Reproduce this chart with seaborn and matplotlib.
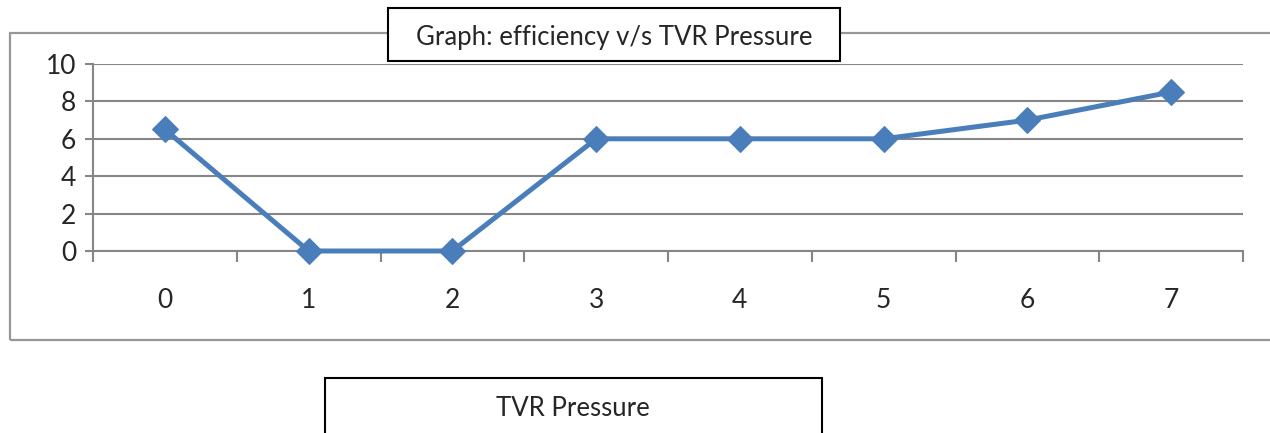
import pandas as pd
import matplotlib.pyplot as plt
import seaborn as sns
from matplotlib.patches import Rectangle

# data
pressure = [0, 1, 2, 3, 4, 5, 6, 7]
efficiency = [6.5, 0, 0, 6, 6, 6, 7, 8.5]
y_ticks = [0, 2, 4, 6, 8, 10]

sns.set_style("white")
plt.rcParams['font.family'] = ['Lato', 'DejaVu Sans']

df = pd.DataFrame({'pressure': pressure, 'efficiency': efficiency})

W, H = 1270, 433
fig = plt.figure(figsize=(W / 100, H / 100), dpi=100)


def fig_rect(x0, y0, x1, y1, **kw):
    """Rectangle given in pixel coords (top-left origin)."""
    r = Rectangle((x0 / W, 1 - y1 / H), (x1 - x0) / W, (y1 - y0) / H,
                  transform=fig.transFigure, **kw)
    fig.patches.append(r)
    return r


# outer chart frame
fig_rect(10, 33, 1300, 340, fill=False, edgecolor='#969696', linewidth=1.6, zorder=0)

ax = fig.add_axes([93 / W, 1 - 251 / H, 1150 / W, 187 / H])
ax.set_facecolor('none')

sns.lineplot(data=df, x='pressure', y='efficiency', ax=ax, color='#4a7ebb',
             linewidth=3.6, marker='D', markersize=13, markeredgecolor='#4a7ebb',
             clip_on=False, zorder=3)

ax.set_xlim(-0.5, len(pressure) - 0.5)
ax.set_ylim(0, 10)
ax.set_yticks(y_ticks)
ax.set_xticks(pressure)
ax.set_xticklabels([str(p) for p in pressure])
ax.set_xticks([p - 0.5 for p in pressure] + [len(pressure) - 0.5], minor=True)
ax.grid(axis='y', color='#868686', linewidth=1.5)
ax.set_axisbelow(True)

for s in ['top', 'right']:
    ax.spines[s].set_visible(False)
for s in ['left', 'bottom']:
    ax.spines[s].set_color('#868686')
    ax.spines[s].set_linewidth(1.5)

ax.tick_params(axis='y', left=True, length=6, width=1.5, color='#868686',
               labelsize=19, pad=6)
ax.tick_params(axis='x', which='major', bottom=True, length=0, labelsize=19, pad=27)
ax.tick_params(axis='x', which='minor', bottom=True, length=8, width=1.5, color='#868686')
ax.set_xlabel('')
ax.set_ylabel('')

# title box
fig_rect(388, 8, 840, 61, facecolor='white', edgecolor='black', linewidth=1.5, zorder=5)
fig.text(614 / W, 1 - 37 / H, 'Graph: efficiency v/s TVR Pressure',
         ha='center', va='center', fontsize=18.5, zorder=6)

# axis title box at the bottom
fig_rect(325, 378, 822, 460, facecolor='white', edgecolor='black', linewidth=1.5)
fig.text(573 / W, 1 - 409 / H, 'TVR Pressure', ha='center', va='center',
         fontsize=18.5)

fig.savefig('out.png', dpi=100)
